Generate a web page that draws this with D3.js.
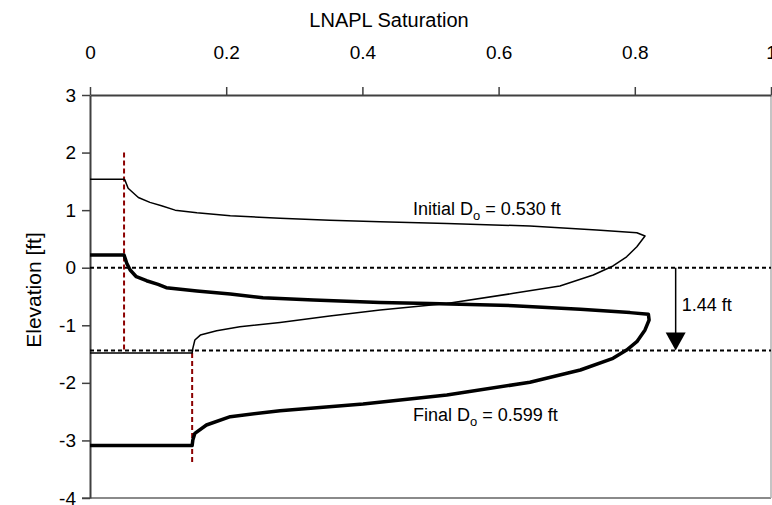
<!DOCTYPE html>
<html>
<head>
<meta charset="utf-8">
<script src="https://cdn.jsdelivr.net/npm/d3@7"></script>
<style>
body{margin:0;background:#fff;}
text{font-family:"Liberation Sans",Arial,sans-serif;fill:#000;}
</style>
</head>
<body>
<script>
var satTicks=[0,0.2,0.4,0.6,0.8,1]
var elevTicks=[3,2,1,0,-1,-2,-3,-4]

// initial LNAPL profile (thin line)
var initialSat=[0,0.05,0.051,0.056,0.071,0.088,0.105,0.125,0.157,0.206,0.279,0.352,0.426,0.524,0.646,0.744,0.803,0.815,0.803,0.788,0.768,0.739,0.690,0.622,0.524,0.426,0.352,0.279,0.220,0.186,0.162,0.154,0.151,0.15,0]
var initialElev=[1.535,1.535,1.53,1.38,1.22,1.135,1.077,1.00,0.955,0.903,0.858,0.823,0.797,0.77,0.724,0.655,0.608,0.55,0.365,0.19,0.03,-0.127,-0.318,-0.445,-0.62,-0.735,-0.84,-0.95,-1.025,-1.094,-1.17,-1.256,-1.40,-1.48,-1.48]

// final LNAPL profile (thick line)
var finalSat=[0,0.05,0.052,0.054,0.059,0.068,0.083,0.100,0.112,0.157,0.206,0.254,0.328,0.426,0.499,0.622,0.720,0.793,0.820,0.821,0.815,0.803,0.788,0.768,0.720,0.646,0.524,0.401,0.279,0.206,0.171,0.154,0.151,0.15,0]
var finalElev=[0.22,0.22,0.15,0.076,-0.04,-0.156,-0.226,-0.289,-0.347,-0.405,-0.457,-0.521,-0.561,-0.605,-0.62,-0.66,-0.723,-0.78,-0.81,-0.908,-1.08,-1.285,-1.43,-1.574,-1.777,-1.99,-2.21,-2.368,-2.484,-2.588,-2.732,-2.877,-2.993,-3.09,-3.09]

// reference lines
var levelElev=[0,-1.44]
var residSat=[0.05,0.15]
var residTop=[2.0,-1.48]
var residBottom=[-1.48,-3.4]
var arrowSat=0.86

var screen={width:772,height:505}
var svg=d3.select("body").append("svg")
          .attr("width",screen.width)
          .attr("height",screen.height)

var xScale=d3.scaleLinear().domain([0,1]).range([90,771])
var yScale=d3.scaleLinear().domain([-4,3]).range([498,95])

// frame lines
svg.append("line")
   .attr("x1",xScale(0)-8).attr("x2",xScale(1))
   .attr("y1",yScale(-4)).attr("y2",yScale(-4))
   .attr("stroke","#8a8a8a").attr("stroke-width",2)
svg.append("line")
   .attr("x1",xScale(1)).attr("x2",xScale(1))
   .attr("y1",yScale(3)).attr("y2",yScale(-4))
   .attr("stroke","#b0b0b0").attr("stroke-width",1.5)

var xAxis=d3.axisTop(xScale)
            .tickValues(satTicks)
            .tickFormat(d3.format("~g"))
            .tickSize(8).tickSizeOuter(0).tickPadding(28)
var gx=svg.append("g").attr("transform","translate(0,"+yScale(3)+")").call(xAxis)
gx.selectAll("text").style("font-size","19px").style("font-family","'Liberation Sans',Arial,sans-serif").attr("fill","#000")
gx.select(".domain").attr("stroke","#404040").attr("stroke-width",2)
gx.selectAll(".tick line").attr("stroke","#404040").attr("stroke-width",1.5)

var yAxis=d3.axisLeft(yScale)
            .tickValues(elevTicks)
            .tickFormat(d3.format("d"))
            .tickSize(8).tickSizeOuter(0).tickPadding(6)
var gy=svg.append("g").attr("transform","translate("+xScale(0)+",0)").call(yAxis)
gy.selectAll("text").style("font-size","19px").style("font-family","'Liberation Sans',Arial,sans-serif").attr("fill","#000")
  .text(function(d){return d<0?"-"+Math.abs(d):d})
gy.select(".domain").attr("stroke","#404040").attr("stroke-width",2)
gy.selectAll(".tick line").attr("stroke","#404040").attr("stroke-width",1.5)

svg.append("text").attr("x",389).attr("y",27)
   .attr("text-anchor","middle").style("font-size","20px")
   .text("LNAPL Saturation")
svg.append("text")
   .attr("transform","translate(41,290) rotate(-90)")
   .attr("text-anchor","middle").style("font-size","21px")
   .text("Elevation [ft]")

// dashed water levels
svg.selectAll(".level").data(levelElev).enter().append("line")
   .attr("class","level")
   .attr("x1",xScale(0)).attr("x2",xScale(1))
   .attr("y1",function(d){return yScale(d)}).attr("y2",function(d){return yScale(d)})
   .attr("stroke","#000").attr("stroke-width",2).attr("stroke-dasharray","4,3")

// residual saturation lines
svg.selectAll(".resid").data(residSat).enter().append("line")
   .attr("class","resid")
   .attr("x1",function(d){return xScale(d)}).attr("x2",function(d){return xScale(d)})
   .attr("y1",function(d,i){return yScale(residTop[i])})
   .attr("y2",function(d,i){return yScale(residBottom[i])})
   .attr("stroke","#8b0000").attr("stroke-width",2).attr("stroke-dasharray","5,3")

var line=d3.line()
           .x(function(d){return xScale(d[0])})
           .y(function(d){return yScale(d[1])})

svg.append("path")
   .datum(d3.zip(initialSat,initialElev))
   .attr("d",line).attr("fill","none")
   .attr("stroke","#000").attr("stroke-width",1.5).attr("stroke-linejoin","round")
svg.append("path")
   .datum(d3.zip(finalSat,finalElev))
   .attr("d",line).attr("fill","none")
   .attr("stroke","#000").attr("stroke-width",3.5).attr("stroke-linejoin","round")

// arrow for drop in water level
var ax=xScale(arrowSat)
svg.append("line")
   .attr("x1",ax).attr("x2",ax)
   .attr("y1",yScale(levelElev[0])).attr("y2",yScale(levelElev[1])-16)
   .attr("stroke","#000").attr("stroke-width",1.5)
svg.append("path")
   .attr("d","M"+(ax-10)+","+(yScale(levelElev[1])-18)+"L"+(ax+10)+","+(yScale(levelElev[1])-18)+"L"+ax+","+yScale(levelElev[1])+"Z")
   .attr("fill","#000")
svg.append("text").attr("x",ax+6).attr("y",311)
   .style("font-size","18px").text("1.44 ft")

var initLabel=svg.append("text").attr("x",413).attr("y",215).style("font-size","18px")
initLabel.append("tspan").text("Initial D")
initLabel.append("tspan").attr("dy",5).style("font-size","13px").text("o")
initLabel.append("tspan").attr("dy",-5).text(" = 0.530 ft")

var finalLabel=svg.append("text").attr("x",413).attr("y",421).style("font-size","18px")
finalLabel.append("tspan").text("Final D")
finalLabel.append("tspan").attr("dy",5).style("font-size","13px").text("o")
finalLabel.append("tspan").attr("dy",-5).text(" = 0.599 ft")
</script>
</body>
</html>
